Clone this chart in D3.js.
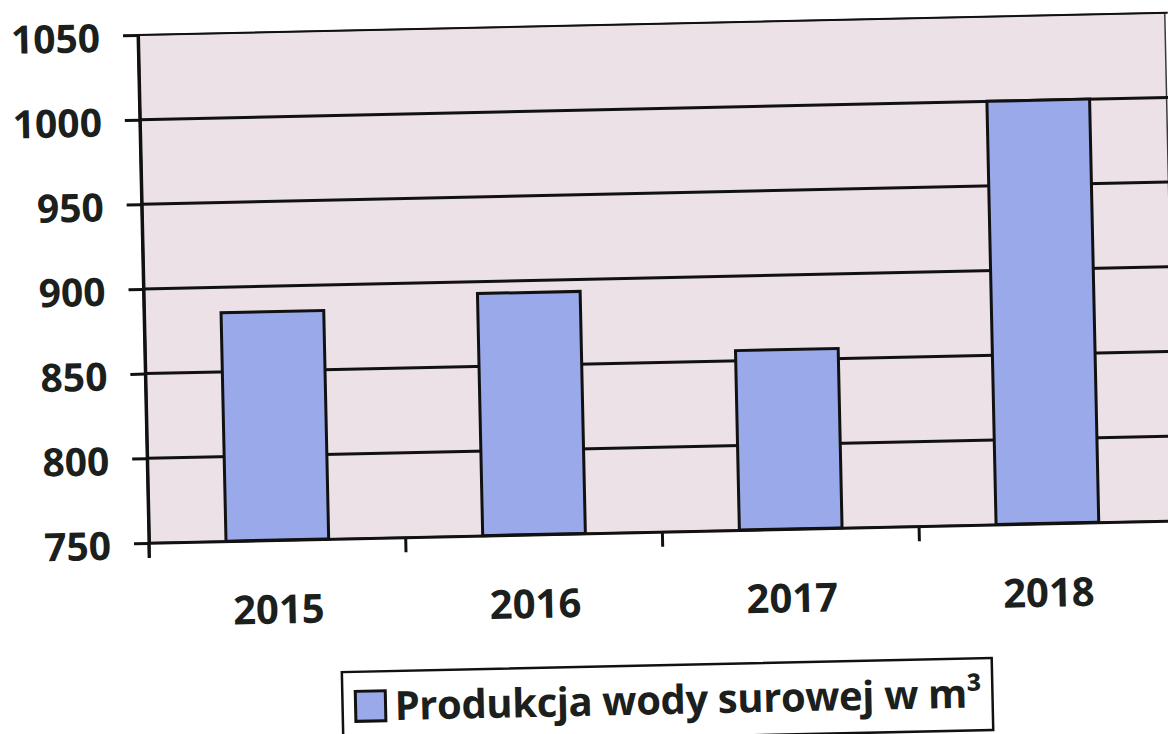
<!DOCTYPE html>
<html>
<head>
<meta charset="utf-8">
<script src="https://cdn.jsdelivr.net/npm/d3@7/dist/d3.min.js"></script>
<style>
  html, body { margin: 0; padding: 0; background: #ffffff; }
  svg { display: block; }
  text { font-family: "Open Sans", "Noto Sans", sans-serif; font-weight: 700; fill: #1b201d; }
</style>
</head>
<body>
<svg id="chart" width="1168" height="734"></svg>
<script>
// ---- data ----
const categories = ["2015", "2016", "2017", "2018"];
const values = [885, 893, 856, 1000];
const yTicks = [750, 800, 850, 900, 950, 1000, 1050];
const seriesName = "Produkcja wody surowej w m³";

// ---- layout ----
const W = 1027, H = 508;
const barColor = "#99a9e9";
const plotBg = "#ebe1e7";

const svg = d3.select("#chart");
const g = svg.append("g").attr("transform", "translate(138,35) rotate(-1.24)");

const x = d3.scaleBand().domain(categories).range([0, W]).paddingInner(0.6).paddingOuter(0.3);
const y = d3.scaleLinear().domain([750, 1050]).range([H, 0]);

// plot background
g.append("rect").attr("x", 0).attr("y", 0).attr("width", W).attr("height", H)
  .attr("fill", plotBg).attr("stroke", "#3a3a3a").attr("stroke-width", 1.5);

// gridlines
g.append("g").selectAll("line").data(yTicks.filter(t => t > 750)).join("line")
  .attr("x1", 0).attr("x2", W + 3)
  .attr("y1", d => y(d)).attr("y2", d => y(d))
  .attr("stroke", "#111").attr("stroke-width", d => d === 1050 ? 2 : 3);

// bars
g.append("g").selectAll("rect").data(categories).join("rect")
  .attr("x", d => x(d))
  .attr("y", (d, i) => y(values[i]))
  .attr("width", x.bandwidth())
  .attr("height", (d, i) => H - y(values[i]))
  .attr("fill", barColor)
  .attr("stroke", "#111")
  .attr("stroke-width", 3);

// y axis
const yAxis = g.append("g")
  .call(d3.axisLeft(y).tickValues(yTicks).tickSize(15).tickSizeOuter(0).tickPadding(23).tickFormat(d3.format("d")));
yAxis.select(".domain").attr("stroke", "#111").attr("stroke-width", 3);
yAxis.selectAll(".tick line").attr("stroke", "#111").attr("stroke-width", 3);
yAxis.selectAll(".tick text").attr("font-size", 39).attr("dy", "0.4em")
  .attr("font-family", "'Open Sans', sans-serif").attr("font-weight", 700).attr("fill", "#1b201d");

// x axis (labels at band centres)
const xAxis = g.append("g").attr("transform", `translate(0,${H})`)
  .call(d3.axisBottom(x).tickSize(0).tickSizeOuter(0).tickPadding(55));
xAxis.select(".domain").attr("stroke", "#111").attr("stroke-width", 3);
xAxis.selectAll(".tick text").attr("font-size", 40)
  .attr("font-family", "'Open Sans', sans-serif").attr("font-weight", 700).attr("fill", "#1b201d");

// x tick marks at category boundaries
const boundaries = categories.map(c => x(c) - x.step() * x.paddingInner() / 2).concat([W]);
g.append("g").selectAll("line").data(boundaries).join("line")
  .attr("x1", d => d).attr("x2", d => d)
  .attr("y1", H).attr("y2", H + 15)
  .attr("stroke", "#111").attr("stroke-width", 3);

// left axis drawn on top
g.append("line").attr("x1", 0).attr("x2", 0).attr("y1", 0).attr("y2", H + 15)
  .attr("stroke", "#111").attr("stroke-width", 3);

// legend
const lg = g.append("g").attr("transform", "translate(190,641.4)");
lg.append("rect").attr("x", 0).attr("y", 0).attr("width", 650).attr("height", 72)
  .attr("fill", "#fff").attr("stroke", "#111").attr("stroke-width", 2.5);
lg.append("rect").attr("x", 13).attr("y", 19.5).attr("width", 30).attr("height", 30)
  .attr("fill", barColor).attr("stroke", "#111").attr("stroke-width", 3);
lg.append("text").attr("x", 52).attr("y", 49).attr("font-size", 40)
  .attr("letter-spacing", "-0.4px").text(seriesName);
</script>
</body>
</html>
